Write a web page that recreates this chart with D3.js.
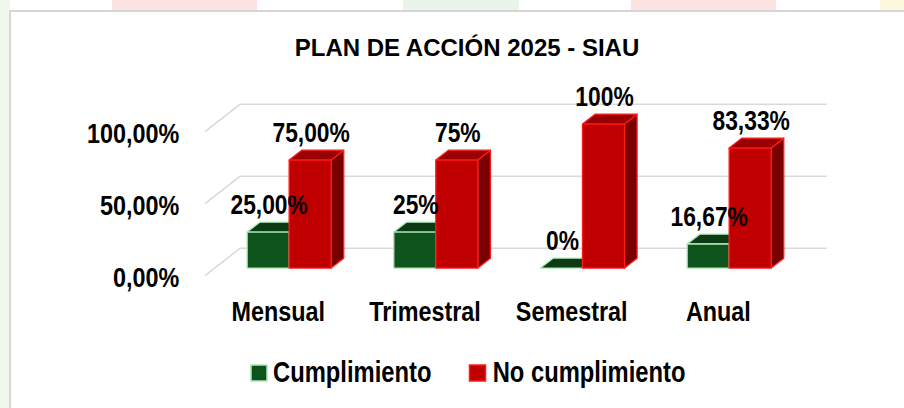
<!DOCTYPE html>
<html>
<head>
<meta charset="utf-8">
<script src="https://cdn.jsdelivr.net/npm/d3@7"></script>
<style>
  body { margin: 0; background: #fff; }
  text { font-family: "Liberation Sans", Arial, sans-serif; font-weight: bold; fill: #000; }
</style>
</head>
<body>
<script>

// Data
var categorias = ["Mensual", "Trimestral", "Semestral", "Anual"];
var series = ["Cumplimiento", "No cumplimiento"];
var cumplimiento = [0.25, 0.25, 0, 0.1667];
var noCumplimiento = [0.75, 0.75, 1, 0.8333];
var etiquetasCumplimiento = ["25,00%", "25%", "0%", "16,67%"];
var etiquetasNoCumplimiento = ["75,00%", "75%", "100%", "83,33%"];
var ticks = [0, 0.5, 1];

var width = 904, height = 408;

var svg = d3.select("body").append("svg")
    .attr("width", width)
    .attr("height", height);

// faint background behind the chart box
var fondo = [
  {x: 112, w: 145, c: "#fde2e2"},
  {x: 403, w: 116, c: "#eaf4ea"},
  {x: 631, w: 145, c: "#fde2e2"},
  {x: 880, w: 24, c: "#fcf9de"}
];
svg.selectAll("rect.fondo")
    .data(fondo)
  .enter().append("rect")
    .attr("class", "fondo")
    .attr("x", function(d) { return d.x; })
    .attr("y", 0)
    .attr("width", function(d) { return d.w; })
    .attr("height", 11)
    .attr("fill", function(d) { return d.c; });
svg.append("rect")
    .attr("x", 0).attr("y", 0)
    .attr("width", 10).attr("height", height)
    .attr("fill", "#f2f7ee");

// chart box
svg.append("rect")
    .attr("x", 10).attr("y", 11)
    .attr("width", 910).attr("height", 420)
    .attr("fill", "#fff")
    .attr("stroke", "#d6d6d6")
    .attr("stroke-width", 2);

// 3D projection: t = 0 back wall, t = 1 front edge of the floor
var depthX = -35, depthY = 27.4;
var tFront = 0.72, tBack = 0.36;
function proj(xb, yb, t) { return [xb + depthX * t, yb + depthY * t]; }

var x = d3.scaleBand().domain(categorias).range([240, 826.7]);
var barW = 42;
var sub = d3.scaleBand().domain(series)
    .range([x.bandwidth() / 2 - barW + 1, x.bandwidth() / 2 + barW + 1]);
var y = d3.scaleLinear().domain([0, 1]).range([248.3, 104.3]);

// condensed bold text helper
function texto(sel, px, sx) {
  return sel.style("font-size", px + "px")
      .attr("transform", function(d) { return "translate(" + d.px + "," + d.py + ") scale(" + sx + ",1)"; });
}

// Title
svg.append("text")
    .attr("x", 467).attr("y", 55.7)
    .attr("text-anchor", "middle")
    .style("font-size", "24px")
    .text("PLAN DE ACCIÓN 2025 - SIAU");

// ****************** gridlines ***************************
var grid = svg.append("g").attr("stroke", "#d9d9d9").attr("stroke-width", 1.5).attr("fill", "none");
ticks.forEach(function(v) {
  var a = proj(x.range()[0], y(v), 1);
  grid.append("path")
      .attr("d", "M" + a[0] + "," + a[1] + "L" + x.range()[0] + "," + y(v) + "L" + x.range()[1] + "," + y(v));
});

var fmt = d3.formatLocale({decimal: ",", thousands: ".", grouping: [3], currency: ["", ""]}).format(".2%");
texto(svg.selectAll("text.tick")
    .data(ticks.map(function(v) { return {v: v, px: 179.3, py: proj(0, y(v), 1)[1] + 11.3}; }))
  .enter().append("text")
    .attr("class", "tick")
    .attr("text-anchor", "end")
    .text(function(d) { return fmt(d.v); }), 28.5, 0.82);

// category labels on the front edge
texto(svg.selectAll("text.cat")
    .data(categorias.map(function(c) { return {c: c, px: x(c) + x.bandwidth() / 2 + depthX, py: 320.7}; }))
  .enter().append("text")
    .attr("class", "cat")
    .attr("text-anchor", "middle")
    .text(function(d) { return d.c; }), 28.5, 0.82);

// ****************** bars ***************************
var estilos = {
  "Cumplimiento": {front: "#0e521c", top: "#0a3b14", side: "#07300f", stroke: "#aee8b8"},
  "No cumplimiento": {front: "#c00000", top: "#990000", side: "#7a0000", stroke: "#ff1a1a"}
};

var barras = [];
categorias.forEach(function(c, i) {
  barras.push({c: c, s: series[0], v: cumplimiento[i], lab: etiquetasCumplimiento[i]});
  barras.push({c: c, s: series[1], v: noCumplimiento[i], lab: etiquetasNoCumplimiento[i]});
});

function pts(arr) { return arr.map(function(p) { return p.join(","); }).join(" "); }

var barG = svg.selectAll("g.bar")
    .data(barras)
  .enter().append("g")
    .attr("class", "bar")
    .attr("stroke-width", 1.3)
    .attr("stroke-linejoin", "round")
    .attr("stroke", function(d) { return estilos[d.s].stroke; });

barG.each(function(d) {
  var g = d3.select(this), st = estilos[d.s];
  var xb0 = x(d.c) + sub(d.s), xb1 = xb0 + barW;
  var f0 = proj(xb0, y(d.v), tFront), f1 = proj(xb1, y(d.v), tFront);
  var b0 = proj(xb0, y(d.v), tBack), b1 = proj(xb1, y(d.v), tBack);
  var fb1 = proj(xb1, y(0), tFront), bb1 = proj(xb1, y(0), tBack);
  // side face
  g.append("polygon").attr("points", pts([f1, b1, bb1, fb1])).attr("fill", st.side);
  // top face
  g.append("polygon").attr("points", pts([f0, f1, b1, b0])).attr("fill", st.top);
  // front face
  if (d.v > 0) {
    g.append("rect")
        .attr("x", f0[0]).attr("y", f0[1])
        .attr("width", barW).attr("height", fb1[1] - f0[1])
        .attr("fill", st.front);
  }
  d.px = f0[0] + barW / 2 + 1;
  d.py = f0[1] - 18;
});

// data labels on top of everything
texto(svg.selectAll("text.lab")
    .data(barras)
  .enter().append("text")
    .attr("class", "lab")
    .attr("text-anchor", "middle")
    .text(function(d) { return d.lab; }), 27.5, 0.83);

// ****************** legend ***************************
var leyenda = [
  {s: series[0], x: 251, tx: 273},
  {s: series[1], x: 469.5, tx: 492.7}
];
svg.selectAll("rect.ley")
    .data(leyenda)
  .enter().append("rect")
    .attr("class", "ley")
    .attr("x", function(d) { return d.x; })
    .attr("y", 365)
    .attr("width", 16).attr("height", 16)
    .attr("fill", function(d) { return estilos[d.s].front; })
    .attr("stroke", function(d) { return estilos[d.s].stroke; })
    .attr("stroke-width", 1.5);
texto(svg.selectAll("text.ley")
    .data(leyenda.map(function(d) { return {s: d.s, px: d.tx, py: 382.3}; }))
  .enter().append("text")
    .attr("class", "ley")
    .text(function(d) { return d.s; }), 29, 0.82);

</script>
</body>
</html>
